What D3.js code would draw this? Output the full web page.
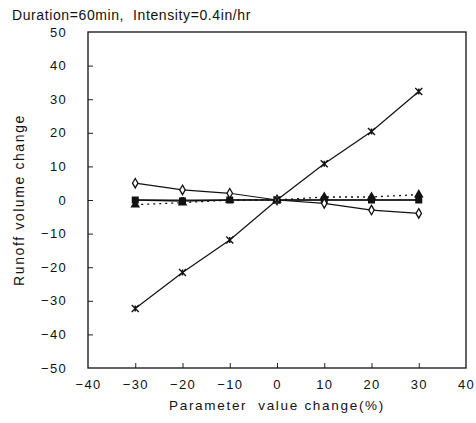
<!DOCTYPE html>
<html><head><meta charset="utf-8">
<script src="https://cdn.jsdelivr.net/npm/d3@7"></script>
<style>body{margin:0;background:#fff}svg{display:block}text{font-family:"Liberation Sans",Arial,sans-serif;fill:#111}</style>
</head><body><svg id="c" width="476" height="423"></svg>
<script>
const xValues = [-30, -20, -10, 0, 10, 20, 30];
const seriesCross = [-32.3, -21.6, -11.9, 0, 10.8, 20.4, 32.3];
const seriesDiamond = [5, 3, 2, 0, -1, -3, -4];
const seriesSquare = [0, -0.3, 0, 0, 0, 0, 0];
const seriesTriangle = [-1.4, -0.8, 0, 0, 0.9, 0.9, 1.6];
const seriesCircle = [0, 0, 0, 0, 0, 0, 0];
const xTicks = [-40, -30, -20, -10, 0, 10, 20, 30, 40];
const yTicks = [50, 40, 30, 20, 10, 0, -10, -20, -30, -40, -50];
const titleText = "Duration=60min,  Intensity=0.4in/hr";
const xTitle = "Parameter  value change(%)";
const yTitle = "Runoff volume change";

const svg = d3.select("#c");
const L = 88, R = 466, T = 32, B = 368;
const x = d3.scaleLinear().domain([-40, 40]).range([L, R]);
const y = d3.scaleLinear().domain([-50, 50]).range([B, T]);

svg.append("text").attr("x", 12).attr("y", 20).attr("font-size", 14).attr("letter-spacing", 0.6)
  .style("white-space", "pre").text(titleText);

const gx = svg.append("g").attr("transform", `translate(0,${B})`)
  .call(d3.axisBottom(x).tickValues(xTicks).tickSize(-5).tickPadding(12).tickFormat(d => String(d).replace("-", "\u2212")));
const gy = svg.append("g").attr("transform", `translate(${L},0)`)
  .call(d3.axisLeft(y).tickValues(yTicks).tickSize(-5).tickPadding(21).tickFormat(d => String(d).replace("-", "\u2212")));
[gx, gy].forEach(g => {
  g.select(".domain").remove();
  g.selectAll(".tick line").attr("stroke", "#222");
  g.selectAll(".tick text").attr("font-size", 13).attr("letter-spacing", 1.3)
    .attr("font-family", "Liberation Sans, Arial, sans-serif").attr("fill", "#111");
});
gx.selectAll(".tick").filter(d => d === -40 || d === 40).select("line").remove();
gy.selectAll(".tick").filter(d => d === 50 || d === -50).select("line").remove();

svg.append("rect").attr("x", L).attr("y", T).attr("width", R - L).attr("height", B - T)
  .attr("fill", "none").attr("stroke", "#111").attr("stroke-width", 1.3);

svg.append("text").attr("x", (L + R) / 2).attr("y", 410).attr("text-anchor", "middle").attr("font-size", 13.5)
  .attr("letter-spacing", 1.7).style("white-space", "pre").text(xTitle);
svg.append("text").attr("transform", `translate(24,${(T + B) / 2}) rotate(-90)`).attr("text-anchor", "middle")
  .attr("font-size", 14).attr("letter-spacing", 1.6).text(yTitle);

const line = d3.line().x(d => x(d[0])).y(d => y(d[1]));
function drawSeries(vals, dash, width) {
  const pts = xValues.map((v, i) => [v, vals[i]]);
  svg.append("path").datum(pts).attr("d", line).attr("fill", "none").attr("stroke", "#111")
    .attr("stroke-width", width).attr("stroke-dasharray", dash);
  return pts;
}

const pTri = drawSeries(seriesTriangle, "2,4", 1.3);
const pCir = drawSeries(seriesCircle, null, 1);
const pSq = drawSeries(seriesSquare, null, 1.3);
const pDia = drawSeries(seriesDiamond, null, 1.2);
const pX = drawSeries(seriesCross, null, 1.2);

svg.selectAll(".tri").data(pTri).enter().append("path")
  .attr("transform", d => `translate(${x(d[0])},${y(d[1])})`)
  .attr("d", d3.symbol().type(d3.symbolTriangle).size(40)).attr("fill", "#111");
svg.selectAll(".cir").data(pCir).enter().append("circle")
  .attr("cx", d => x(d[0])).attr("cy", d => y(d[1])).attr("r", 2.5).attr("fill", "#fff").attr("stroke", "#111").attr("stroke-width", 1.2);
svg.selectAll(".sq").data(pSq).enter().append("rect")
  .attr("x", d => x(d[0]) - 3.5).attr("y", d => y(d[1]) - 3.5).attr("width", 7).attr("height", 7).attr("fill", "#111");
svg.selectAll(".dia").data(pDia).enter().append("path")
  .attr("transform", d => `translate(${x(d[0])},${y(d[1])})`)
  .attr("d", d3.symbol().type(d3.symbolDiamond).size(26)).attr("fill", "#fff").attr("stroke", "#111").attr("stroke-width", 1.3);
svg.selectAll(".xm").data(pX).enter().append("path")
  .attr("transform", d => `translate(${x(d[0])},${y(d[1])})`)
  .attr("d", "M-3.5,-3.5L3.5,3.5M-3.5,3.5L3.5,-3.5M0,-3L0,3").attr("stroke", "#111").attr("stroke-width", 1.4);
</script></body></html>
